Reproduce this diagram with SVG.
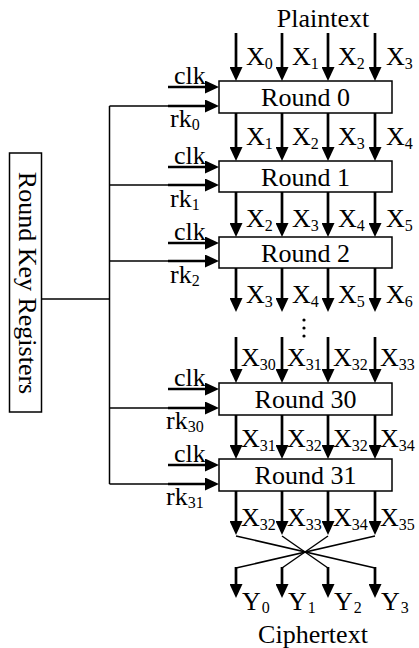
<svg xmlns="http://www.w3.org/2000/svg" width="419" height="648" viewBox="0 0 419 648">
<style>
text{font-size:26px;fill:#000}
.sub{font-size:16px}
.box{fill:#fff;stroke:#000;stroke-width:1.5}
.thin{stroke:#000;stroke-width:1.5;fill:none}
.thick{stroke:#000;stroke-width:2.7;fill:none;marker-end:url(#ah)}
.mid{text-anchor:middle}
</style>
<defs>
<marker id="ah" markerUnits="userSpaceOnUse" markerWidth="14" markerHeight="13" refX="6" refY="6.5" orient="auto">
<path d="M0,0 L14,6.5 L0,13 Z" fill="#000"/>
</marker>
</defs>
<rect width="419" height="648" fill="#fff"/>

<g id="connectors">
<line class="thin" x1="41.5" y1="299" x2="109.5" y2="299"/>
<line class="thin" x1="109.5" y1="106" x2="109.5" y2="484"/>
<line class="thin" x1="109.5" y1="106" x2="169" y2="106"/>
<line class="thin" x1="109.5" y1="185" x2="169" y2="185"/>
<line class="thin" x1="109.5" y1="261" x2="169" y2="261"/>
<line class="thin" x1="109.5" y1="408" x2="169" y2="408"/>
<line class="thin" x1="109.5" y1="484" x2="169" y2="484"/>
<line class="thick" x1="168" y1="106" x2="211" y2="106"/>
<line class="thick" x1="168" y1="185" x2="211" y2="185"/>
<line class="thick" x1="168" y1="261" x2="211" y2="261"/>
<line class="thick" x1="168" y1="408" x2="211" y2="408"/>
<line class="thick" x1="168" y1="484" x2="211" y2="484"/>
<line class="thick" x1="168" y1="87" x2="211" y2="87"/>
<line class="thick" x1="168" y1="167" x2="211" y2="167"/>
<line class="thick" x1="168" y1="243" x2="211" y2="243"/>
<line class="thick" x1="168" y1="389" x2="211" y2="389"/>
<line class="thick" x1="168" y1="465" x2="211" y2="465"/>
<line class="thick" x1="236" y1="33" x2="236" y2="73"/>
<line class="thick" x1="282" y1="33" x2="282" y2="73"/>
<line class="thick" x1="328" y1="33" x2="328" y2="73"/>
<line class="thick" x1="375" y1="33" x2="375" y2="73"/>
<line class="thick" x1="236" y1="113" x2="236" y2="153"/>
<line class="thick" x1="282" y1="113" x2="282" y2="153"/>
<line class="thick" x1="328" y1="113" x2="328" y2="153"/>
<line class="thick" x1="375" y1="113" x2="375" y2="153"/>
<line class="thick" x1="236" y1="192" x2="236" y2="229"/>
<line class="thick" x1="282" y1="192" x2="282" y2="229"/>
<line class="thick" x1="328" y1="192" x2="328" y2="229"/>
<line class="thick" x1="375" y1="192" x2="375" y2="229"/>
<line class="thick" x1="236" y1="268" x2="236" y2="304"/>
<line class="thick" x1="282" y1="268" x2="282" y2="304"/>
<line class="thick" x1="328" y1="268" x2="328" y2="304"/>
<line class="thick" x1="375" y1="268" x2="375" y2="304"/>
<line class="thick" x1="236" y1="337" x2="236" y2="375"/>
<line class="thick" x1="282" y1="337" x2="282" y2="375"/>
<line class="thick" x1="328" y1="337" x2="328" y2="375"/>
<line class="thick" x1="375" y1="337" x2="375" y2="375"/>
<line class="thick" x1="236" y1="415" x2="236" y2="451"/>
<line class="thick" x1="282" y1="415" x2="282" y2="451"/>
<line class="thick" x1="328" y1="415" x2="328" y2="451"/>
<line class="thick" x1="375" y1="415" x2="375" y2="451"/>
<line class="thick" x1="236" y1="491" x2="236" y2="527"/>
<line class="thick" x1="282" y1="491" x2="282" y2="527"/>
<line class="thick" x1="328" y1="491" x2="328" y2="527"/>
<line class="thick" x1="375" y1="491" x2="375" y2="527"/>
<line class="thin" x1="236" y1="536" x2="375" y2="568"/>
<line class="thin" x1="282" y1="536" x2="328" y2="568"/>
<line class="thin" x1="328" y1="536" x2="282" y2="568"/>
<line class="thin" x1="375" y1="536" x2="236" y2="568"/>
<line class="thick" x1="236" y1="567" x2="236" y2="590"/>
<line class="thick" x1="282" y1="567" x2="282" y2="590"/>
<line class="thick" x1="328" y1="567" x2="328" y2="590"/>
<line class="thick" x1="375" y1="567" x2="375" y2="590"/>
<circle cx="304" cy="320" r="1.6"/>
<circle cx="304" cy="328" r="1.6"/>
<circle cx="304" cy="336" r="1.6"/>
</g>

<g font-family="'Liberation Serif', 'DejaVu Serif', 'Times New Roman', serif">
<g id="rkreg">
<rect class="box" x="9.5" y="153" width="32" height="259"/>
<text class="mid" transform="translate(19,283) rotate(90)">Round Key Registers</text>
</g>
<g id="round0"><rect class="box" x="219" y="81" width="173" height="32"/><text class="mid" x="305.5" y="106">Round 0</text></g>
<g id="round1"><rect class="box" x="219" y="161" width="173" height="31"/><text class="mid" x="305.5" y="185.5">Round 1</text></g>
<g id="round2"><rect class="box" x="219" y="237" width="173" height="31"/><text class="mid" x="305.5" y="261.5">Round 2</text></g>
<g id="round30"><rect class="box" x="219" y="383" width="173" height="32"/><text class="mid" x="305.5" y="408">Round 30</text></g>
<g id="round31"><rect class="box" x="219" y="459" width="173" height="32"/><text class="mid" x="305.5" y="484">Round 31</text></g>

<g id="labels">
<text class="mid" x="323" y="27">Plaintext</text>
<text class="mid" x="313" y="643">Ciphertext</text>
<text x="174" y="84">clk</text>
<text x="174" y="164">clk</text>
<text x="174" y="240">clk</text>
<text x="174" y="386">clk</text>
<text x="174" y="462">clk</text>
<text x="170" y="127">rk<tspan class="sub" dy="3">0</tspan></text>
<text x="170" y="207">rk<tspan class="sub" dy="3">1</tspan></text>
<text x="170" y="283">rk<tspan class="sub" dy="3">2</tspan></text>
<text x="166" y="429">rk<tspan class="sub" dy="3">30</tspan></text>
<text x="166" y="505">rk<tspan class="sub" dy="3">31</tspan></text>
<text x="246" y="65">X<tspan class="sub" dy="4">0</tspan></text>
<text x="292" y="65">X<tspan class="sub" dy="4">1</tspan></text>
<text x="338" y="65">X<tspan class="sub" dy="4">2</tspan></text>
<text x="386" y="65">X<tspan class="sub" dy="4">3</tspan></text>
<text x="246" y="145">X<tspan class="sub" dy="4">1</tspan></text>
<text x="292" y="145">X<tspan class="sub" dy="4">2</tspan></text>
<text x="338" y="145">X<tspan class="sub" dy="4">3</tspan></text>
<text x="386" y="145">X<tspan class="sub" dy="4">4</tspan></text>
<text x="246" y="227">X<tspan class="sub" dy="4">2</tspan></text>
<text x="292" y="227">X<tspan class="sub" dy="4">3</tspan></text>
<text x="338" y="227">X<tspan class="sub" dy="4">4</tspan></text>
<text x="386" y="227">X<tspan class="sub" dy="4">5</tspan></text>
<text x="246" y="303">X<tspan class="sub" dy="4">3</tspan></text>
<text x="292" y="303">X<tspan class="sub" dy="4">4</tspan></text>
<text x="338" y="303">X<tspan class="sub" dy="4">5</tspan></text>
<text x="386" y="303">X<tspan class="sub" dy="4">6</tspan></text>
<text x="241" y="366">X<tspan class="sub" dy="4">30</tspan></text>
<text x="287" y="366">X<tspan class="sub" dy="4">31</tspan></text>
<text x="333" y="366">X<tspan class="sub" dy="4">32</tspan></text>
<text x="380" y="366">X<tspan class="sub" dy="4">33</tspan></text>
<text x="241" y="447">X<tspan class="sub" dy="4">31</tspan></text>
<text x="287" y="447">X<tspan class="sub" dy="4">32</tspan></text>
<text x="333" y="447">X<tspan class="sub" dy="4">32</tspan></text>
<text x="380" y="447">X<tspan class="sub" dy="4">34</tspan></text>
<text x="241" y="526">X<tspan class="sub" dy="4">32</tspan></text>
<text x="287" y="526">X<tspan class="sub" dy="4">33</tspan></text>
<text x="333" y="526">X<tspan class="sub" dy="4">34</tspan></text>
<text x="380" y="526">X<tspan class="sub" dy="4">35</tspan></text>
<text x="242" y="610">Y<tspan class="sub" dx="1" dy="3">0</tspan></text>
<text x="288" y="610">Y<tspan class="sub" dx="1" dy="3">1</tspan></text>
<text x="334" y="610">Y<tspan class="sub" dx="1" dy="3">2</tspan></text>
<text x="381" y="610">Y<tspan class="sub" dx="1" dy="3">3</tspan></text>
</g>
</g>
</svg>
